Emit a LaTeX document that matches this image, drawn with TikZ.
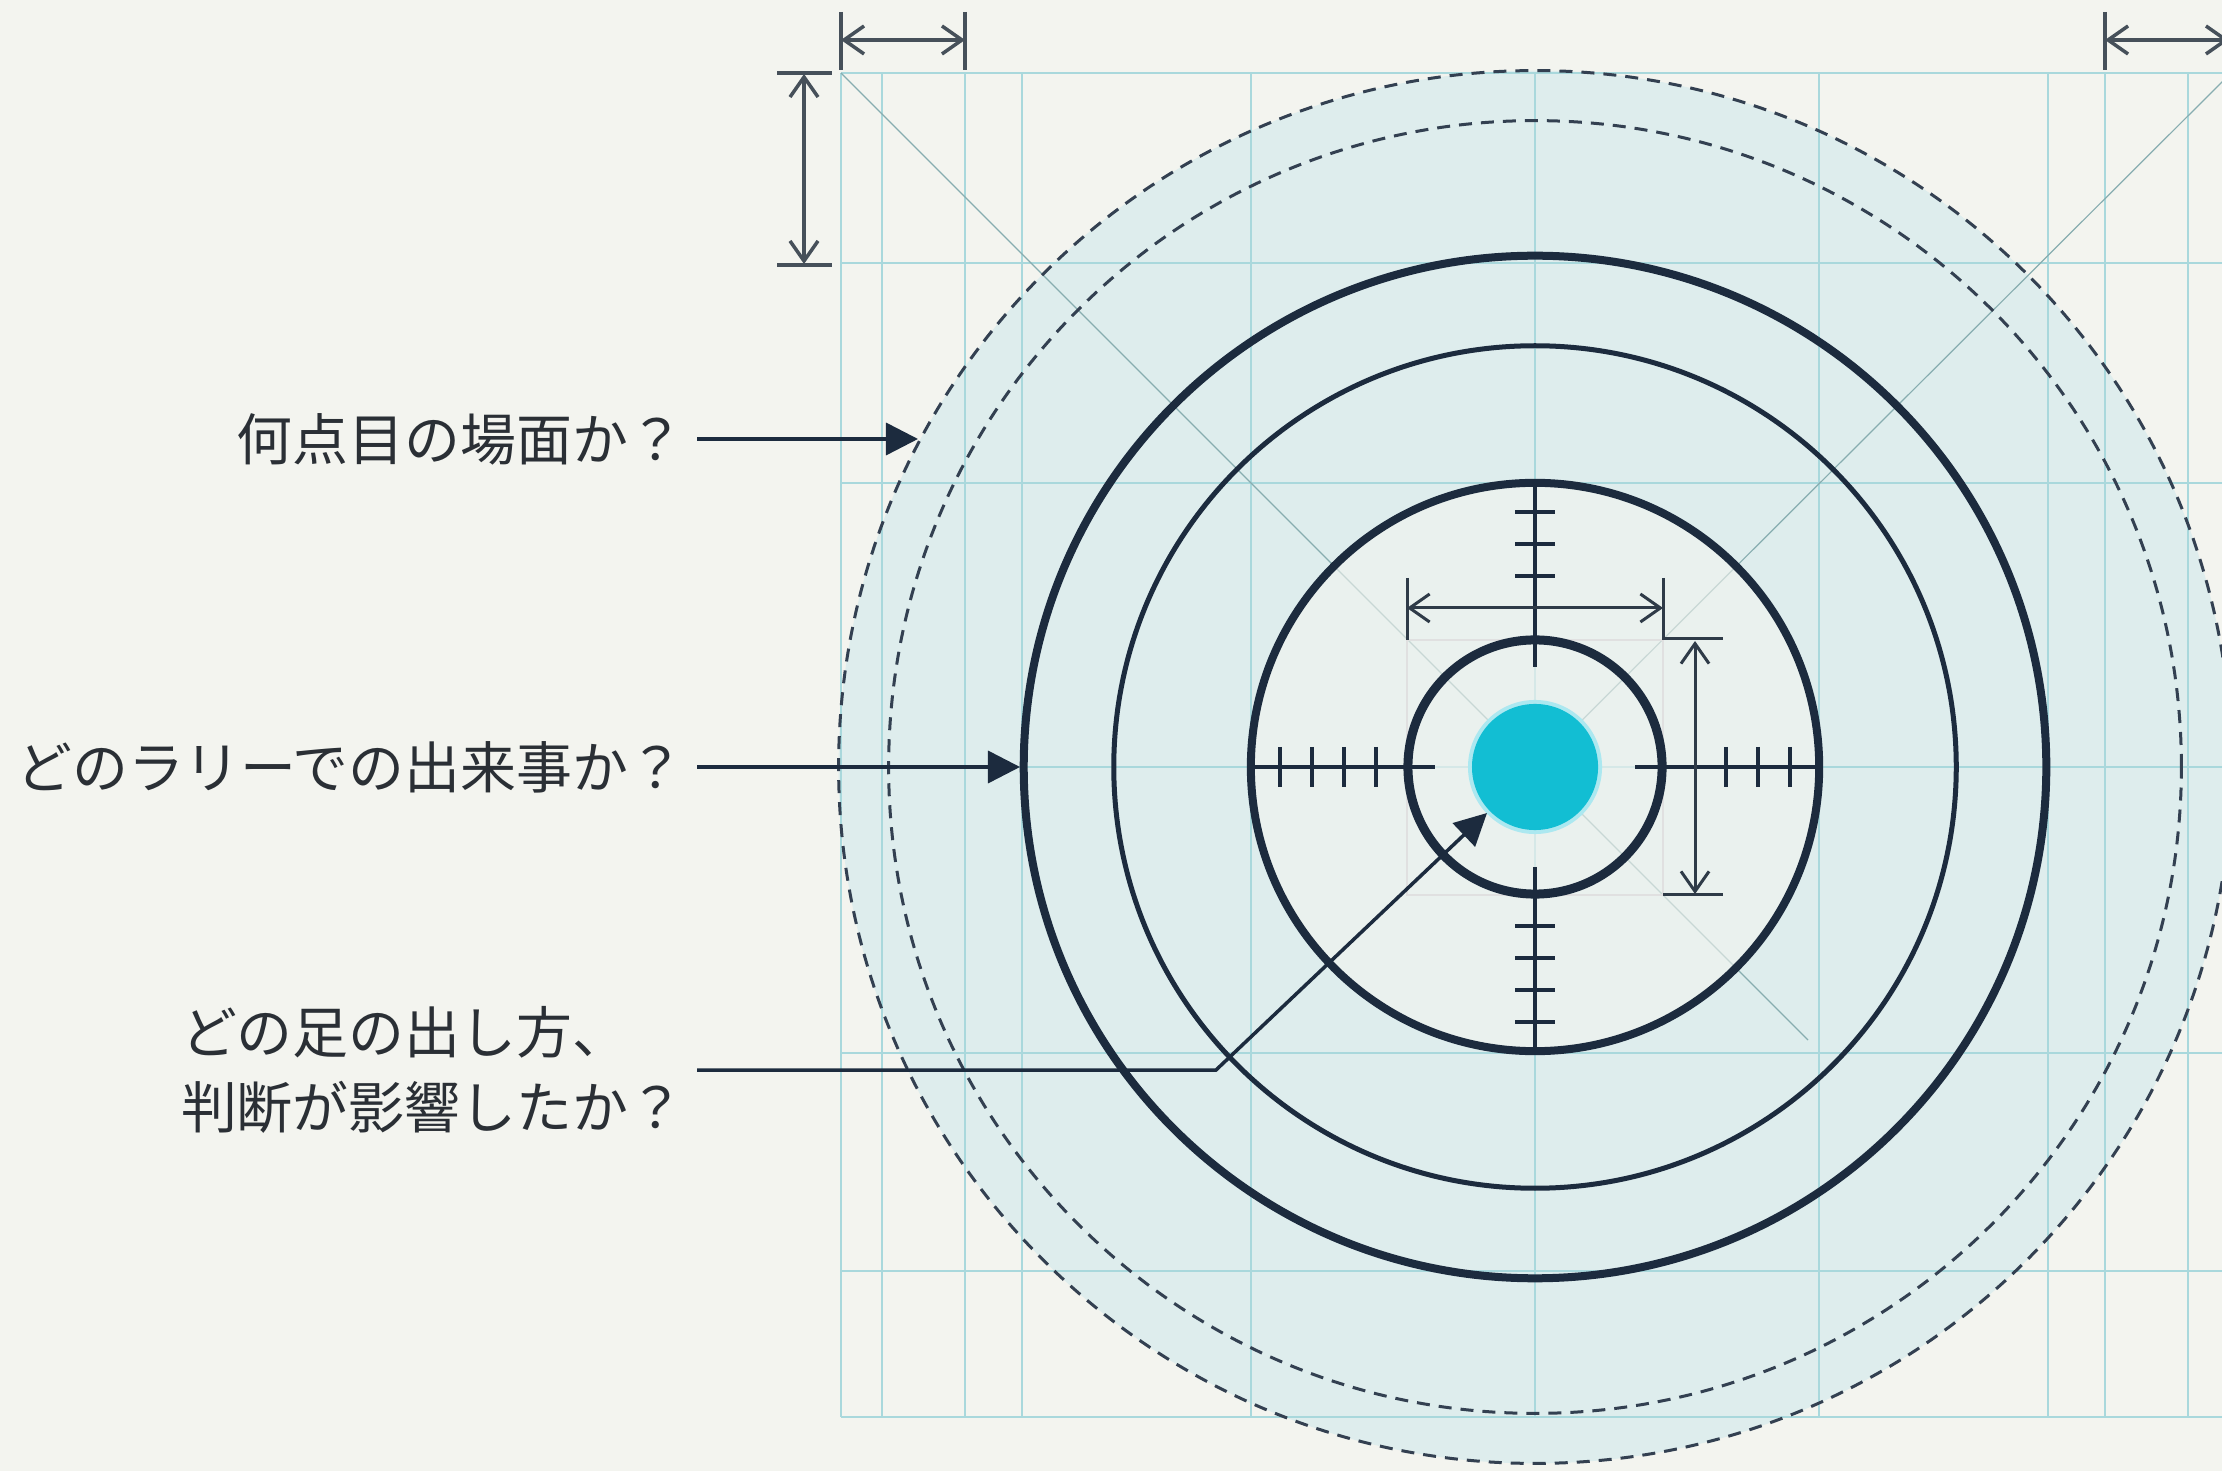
\documentclass[tikz,border=0pt]{standalone}
\usepackage{fontspec}
\newfontfamily\jpfont{Noto Sans CJK JP}
\usetikzlibrary{arrows.meta}
\definecolor{bg}{HTML}{F3F4EF}
\definecolor{tint}{HTML}{DEEDED}
\definecolor{gridc}{HTML}{A9D8DC}
\definecolor{navy}{HTML}{1C2B3E}
\definecolor{dimc}{HTML}{46505A}
\definecolor{dimin}{HTML}{2F3B48}
\definecolor{dotc}{HTML}{12BED3}
\definecolor{txt}{HTML}{2A2F35}
\begin{document}
\begin{tikzpicture}[x=0.01cm,y=-0.01cm,
  gridline/.style={gridc, line width=0.025cm},
  diag/.style={gridc!80!black, line width=0.012cm},
  dashring/.style={navy!90, line width=0.03cm, dash pattern=on 0.13cm off 0.09cm},
  hair/.style={navy, line width=0.04cm},
  dimline/.style={dimc, line width=0.035cm},
  dimlinein/.style={dimin, line width=0.03cm},
  barbs/.style={{Straight Barb[length=0.2cm,width=0.28cm]}-{Straight Barb[length=0.2cm,width=0.28cm]}},
  callout/.style={navy, line width=0.035cm, -{Triangle[length=0.32cm,width=0.32cm]}},
  lbl/.style={text=txt, font=\jpfont\fontsize{15.9pt}{21.3pt}\selectfont, inner sep=0pt, anchor=east},
]
\useasboundingbox (0,0) rectangle (2222,1471);
\clip (0,0) rectangle (2222,1471);
\fill[bg] (0,0) rectangle (2222,1471);

\coordinate (C) at (1535,767);
% tinted disc
\fill[tint] (C) circle[radius=6.96cm];

% grid
\foreach \x in {841,882,965,1022,1251,1535,1819,2048,2105,2188}
  \draw[gridline] (\x,73) -- (\x,1417);
\foreach \y in {73,263,483,767,1053,1271,1417}
  \draw[gridline] (841,\y) -- (2240,\y);
\draw[diag] (841,73) -- (C) -- (2231,73);
\draw[diag] (C) -- (1808,1040);

% light inner disc
\fill[bg, opacity=0.6] (C) circle[radius=2.84cm];
\draw[black!12, line width=0.015cm] (1407,640) rectangle (1663,895);

% rings
\draw[dashring] (C) circle[radius=6.96cm];
\draw[dashring] (C) circle[radius=6.46cm];
\draw[navy, line width=0.08cm] (C) circle[radius=5.11cm];
\draw[navy, line width=0.05cm] (C) circle[radius=4.21cm];
\draw[navy, line width=0.08cm] (C) circle[radius=2.84cm];
\draw[navy, line width=0.09cm] (C) circle[radius=1.27cm];

% crosshair
\draw[hair] (1535,483) -- (1535,667);
\draw[hair] (1535,867) -- (1535,1051);
\draw[hair] (1251,767) -- (1435,767);
\draw[hair] (1635,767) -- (1819,767);
\foreach \d in {191,223,255} {
  \draw[hair] (1515,767-\d) -- (1555,767-\d);
  \draw[hair] (1535+\d,747) -- (1535+\d,787);
}
\foreach \d in {159,191,223,255} {
  \draw[hair] (1515,767+\d) -- (1555,767+\d);
  \draw[hair] (1535-\d,747) -- (1535-\d,787);
}

% target dot
\fill[dotc!35] (C) circle[radius=0.67cm];
\fill[dotc] (C) circle[radius=0.63cm];

% inner dimensions
\draw[dimlinein, barbs] (1407,608) -- (1663,608);
\draw[dimlinein] (1407,578) -- (1407,640);
\draw[dimlinein] (1663,578) -- (1663,639) -- (1723,639);
\draw[dimlinein] (1663,895) -- (1723,895);
\draw[dimlinein, barbs] (1695,641) -- (1695,894);

% outer dimensions
\draw[dimline, barbs] (841,40) -- (965,40);
\draw[dimline] (841,12) -- (841,70);
\draw[dimline] (965,12) -- (965,70);
\draw[dimline, barbs] (2105,40) -- (2229,40);
\draw[dimline] (2105,12) -- (2105,70);
\draw[dimline, barbs] (804,74) -- (804,264);
\draw[dimline] (777,73) -- (832,73);
\draw[dimline] (777,265) -- (832,265);

% labels
\node[lbl] (q1) at (685,439) {何点目の場面か？};
\node[lbl] (q2) at (685,767) {どのラリーでの出来事か？};
\node[lbl, align=left] (q3) at (685,1070) {どの足の出し方、\\判断が影響したか？};

% callouts
\coordinate (t1) at (918,439);
\coordinate (t2) at (1020,767);
\coordinate (b3) at (1216,1070);
\coordinate (t3) at (1487,813);
\draw[callout] ([xshift=0.12cm]q1.east) -- (t1);
\draw[callout] ([xshift=0.12cm]q2.east) -- (t2);
\draw[callout] ([xshift=0.12cm]q3.east) -- (b3) -- (t3);
\end{tikzpicture}
\end{document}
